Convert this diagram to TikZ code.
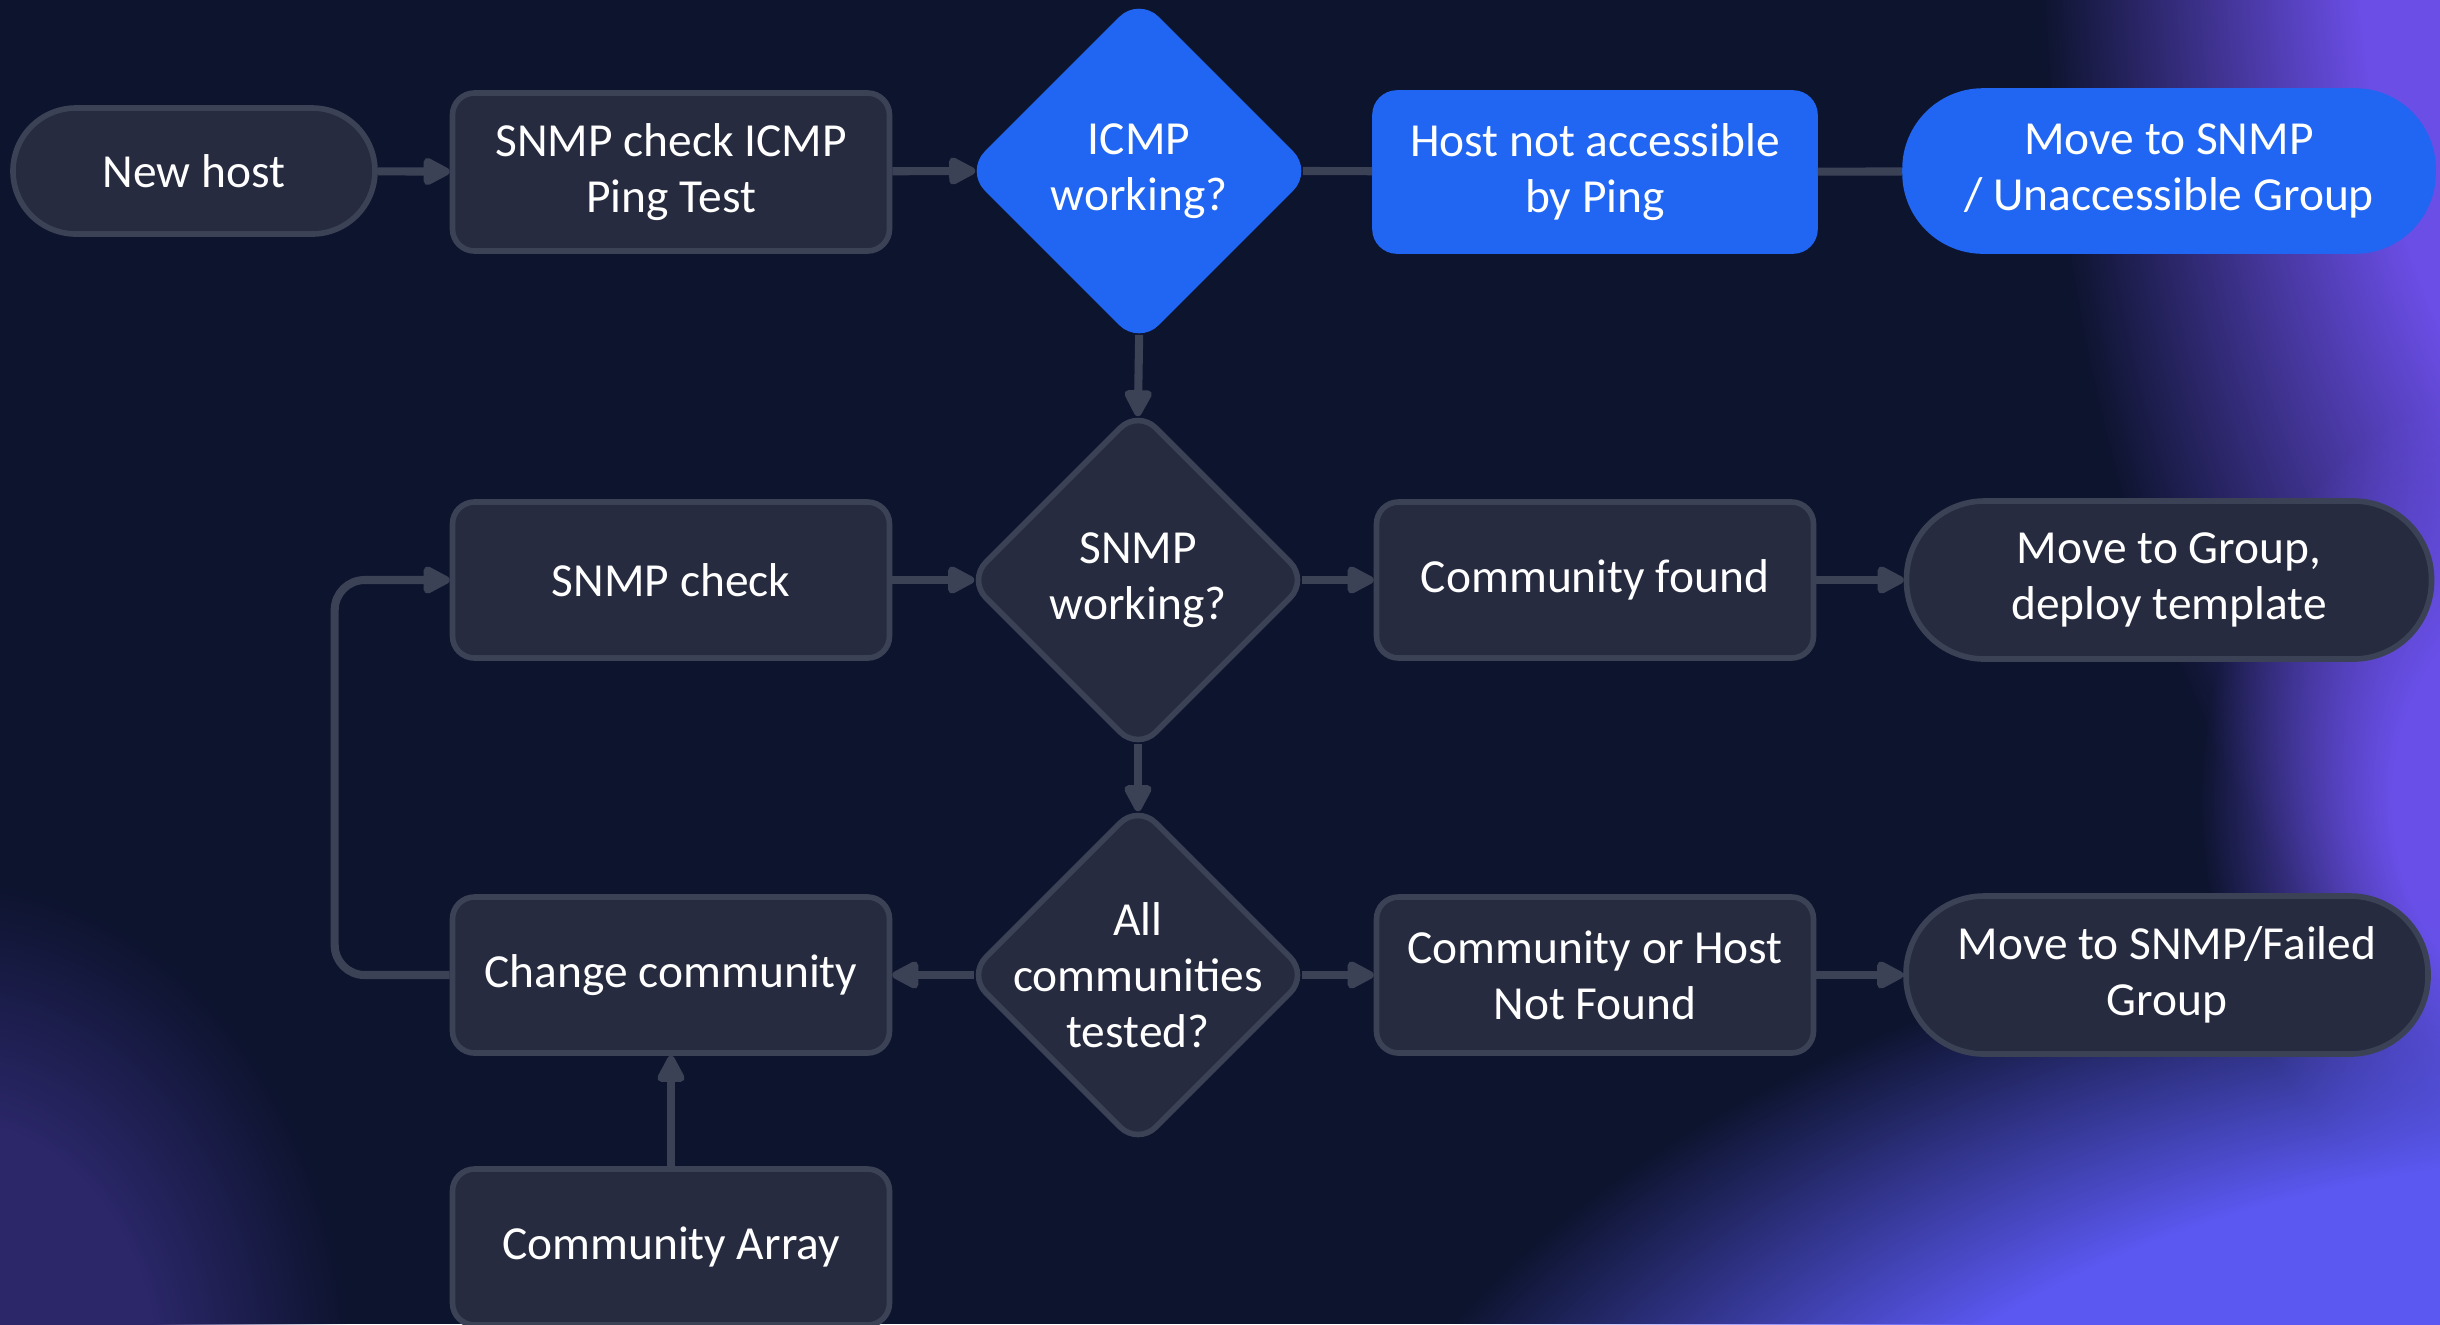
\documentclass[tikz,border=0pt]{standalone}
\usepackage{fontspec}
\setmainfont{Carlito}
\usetikzlibrary{shapes.geometric,arrows.meta,fadings}
\definecolor{bgnavy}{HTML}{0D142E}
\definecolor{nodefill}{HTML}{262B40}
\definecolor{nodeline}{HTML}{3C4256}
\definecolor{pingblue}{HTML}{2066F2}
\definecolor{glowviolet}{HTML}{6B4EE6}
\definecolor{glowindigo}{HTML}{5A58F0}
\pgfdeclareradialshading{softdiscshade}{\pgfpointorigin}{color(0bp)=(pgftransparent!0); color(13bp)=(pgftransparent!0); color(25bp)=(pgftransparent!100); color(50bp)=(pgftransparent!100)}
\pgfdeclareradialshading{crispdiscshade}{\pgfpointorigin}{color(0bp)=(pgftransparent!0); color(17bp)=(pgftransparent!0); color(25bp)=(pgftransparent!100); color(50bp)=(pgftransparent!100)}
\pgfdeclarefading{softdisc}{\pgfuseshading{softdiscshade}}
\pgfdeclarefading{crispdisc}{\pgfuseshading{crispdiscshade}}

\begin{document}
\begin{tikzpicture}[
  every node/.style={text=white, font=\fontsize{13.5}{16}\selectfont, align=center},
  darkbox/.style={draw=nodeline, fill=nodefill, line width=1.6pt, rounded corners=2.2mm,
                  minimum width=4.37cm, minimum height=1.56cm, inner sep=0pt},
  bluebox/.style={darkbox, draw=pingblue, fill=pingblue},
  darkpill/.style={darkbox, rounded corners=7.8mm, minimum width=5.25cm, minimum height=1.58cm},
  bluepill/.style={darkpill, draw=pingblue, fill=pingblue},
  decision/.style={diamond, draw=nodeline, fill=nodefill, line width=1.6pt, rounded corners=2.5mm,
                   minimum width=3.42cm, minimum height=3.42cm, inner sep=0pt, aspect=1},
  bluedecision/.style={decision, draw=pingblue, fill=pingblue},
  link/.style={draw=nodeline, line width=2.3pt},
  flow/.style={link, -{Triangle[length=3.1mm, width=3mm, round]}},
  todiamond/.style={shorten >=-1mm},
  fromdiamond/.style={shorten <=-1mm}
]
\useasboundingbox (0,0) rectangle (24.4,-13.24);
\begin{scope}
  \clip (0,0) rectangle (24.4,-13.24);
  \fill[bgnavy] (0,0) rectangle (24.4,-13.24);
  % purple glow round the edges
  \fill[glowviolet, path fading=softdisc] (27,1) ellipse (6.6 and 12.5);
  \fill[glowviolet!90!glowindigo, path fading=softdisc] (26,-8) ellipse (4 and 4.5);
  \fill[glowindigo, path fading=crispdisc] (26.5,-17.2) ellipse (13.6 and 8.3);
  \fill[glowviolet!32!bgnavy, path fading=softdisc] (-0.5,-13.8) ellipse (4 and 5);
\end{scope}

\node[darkpill, minimum width=3.62cm, minimum height=1.26cm, rounded corners=6.3mm] (newhost) at (1.94,-1.71) {New host};
\node[darkbox, minimum height=1.58cm] (pingtest) at (6.71,-1.72) {SNMP check ICMP\\Ping Test};
\node[bluedecision, label=center:{ICMP\\working?}] (icmpok) at (11.39,-1.71) {};
\node[bluebox, minimum width=4.4cm, minimum height=1.58cm] (noping) at (15.95,-1.72) {Host not accessible\\by Ping};
\node[bluepill, minimum width=5.28cm, minimum height=1.6cm] (unaccessible) at (21.69,-1.71) {Move to SNMP\\/ Unaccessible Group};

\node[darkbox] (snmpcheck) at (6.71,-5.80) {SNMP check};
\node[decision, label=center:{SNMP\\working?}] (snmpok) at (11.38,-5.80) {};
\node[darkbox] (found) at (15.95,-5.80) {Community found};
\node[darkpill] (deploy) at (21.69,-5.80) {Move to Group,\\deploy template};

\node[darkbox] (change) at (6.71,-9.75) {Change community};
\node[decision, label=center:{All\\communities\\tested?}] (alltested) at (11.38,-9.75) {};
\node[darkbox] (notfound) at (15.95,-9.75) {Community or Host\\Not Found};
\node[darkpill, minimum width=5.22cm] (failed) at (21.67,-9.75) {Move to SNMP/Failed\\Group};

\node[darkbox] (array) at (6.71,-12.47) {Community Array};

\draw[flow] (newhost) -- (pingtest);
\draw[flow, todiamond] (pingtest) -- (icmpok.west);
\draw[link, fromdiamond] (icmpok.east) -- (noping);
\draw[link] (noping) -- (unaccessible);
\draw[flow, todiamond, fromdiamond] (icmpok.south) -- (snmpok.north);

\draw[flow, todiamond] (snmpcheck) -- (snmpok.west);
\draw[flow, fromdiamond] (snmpok.east) -- (found);
\draw[flow] (found) -- (deploy);
\draw[flow, todiamond, fromdiamond] (snmpok.south) -- (alltested.north);

\draw[flow, fromdiamond] (alltested.west) -- (change);
\draw[flow, fromdiamond] (alltested.east) -- (notfound);
\draw[flow] (notfound) -- (failed);
\draw[flow] (array) -- (change);
\draw[flow, rounded corners=3mm] (change.west) -- ++(-1.15,0) |- (snmpcheck.west);
\end{tikzpicture}
\end{document}
